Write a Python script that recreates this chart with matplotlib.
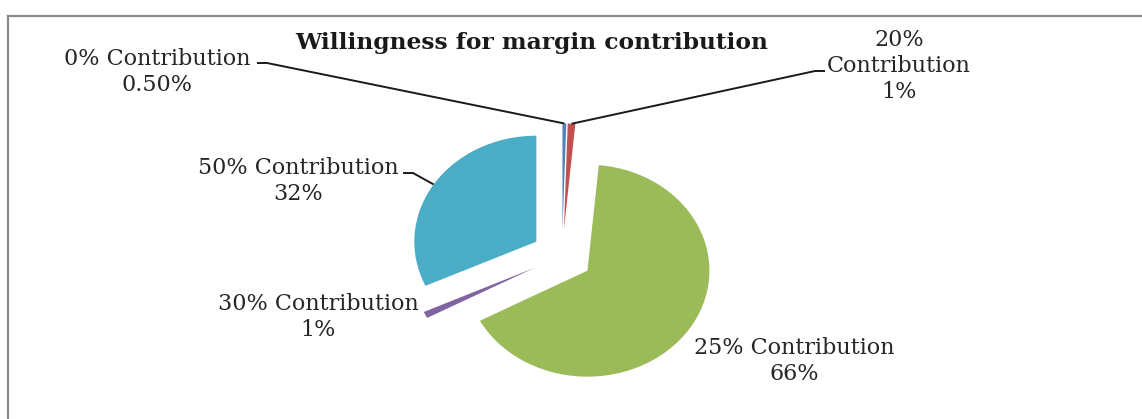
import numpy as np
import matplotlib
matplotlib.use("Agg")
import matplotlib.pyplot as plt
from matplotlib.lines import Line2D

# Survey answers: share of respondents by willingness level
categories = ["0% Contribution", "20% Contribution", "25% Contribution",
              "30% Contribution", "50% Contribution"]
values = [0.5, 1, 66, 1, 32]
value_labels = ["0.50%", "1%", "66%", "1%", "32%"]
colors = ["#4F81BD", "#C0504D", "#9BBB59", "#8064A2", "#4BACC6"]
title = "Willingness for margin contribution"

W, H = 1142, 419
# pie centre and radii in figure pixels (pie drawn slightly wider than tall)
CX, CY, RX, RY = 562, 256, 122, 106

fig = plt.figure(figsize=(W / 100, H / 100), dpi=100)
fig.patch.set_facecolor("white")
ax = fig.add_axes([0, 0, 1, 1])

wedges, _ = ax.pie(values, colors=colors, startangle=90, counterclock=False,
                   explode=[0.25] * len(values), radius=1.0,
                   wedgeprops=dict(linewidth=0))
ax.set_aspect("auto")
ax.set_xlim(-CX / RX, (W - CX) / RX)
ax.set_ylim((CY - H) / RY, CY / RY)
ax.axis("off")


def to_data(px, py):
    return (px - CX) / RX, (CY - py) / RY


def outer_mid(w):
    mid = np.deg2rad((w.theta1 + w.theta2) / 2)
    cx, cy = w.center
    return cx + w.r * np.cos(mid), cy + w.r * np.sin(mid)


font = ["DejaVu Serif"]
txt_color = "#262626"

# label layout: (centre x, centre y) in pixels and line breaks
label_pos = [(157, 72), (899, 66), (794, 361), (318, 317), (298, 181)]
for i, (name, vl) in enumerate(zip(categories, value_labels)):
    name_txt = name.replace(" ", "\n") if i == 1 else name
    x, y = to_data(*label_pos[i])
    ax.text(x, y, f"{name_txt}\n{vl}", ha="center", va="center",
            fontsize=16, family=font, color=txt_color, linespacing=1.22)

# leader lines: slice -> elbow -> stub end next to the text
leaders = {0: [(267, 63), (257, 63)], 1: [(815, 71), (825, 71)],
           4: [(413, 173), (403, 173)]}
for i, pts in leaders.items():
    x0, y0 = outer_mid(wedges[i])
    xs, ys = [x0], [y0]
    for p in pts:
        dx, dy = to_data(*p)
        xs.append(dx)
        ys.append(dy)
    ax.plot(xs, ys, color="#1a1a1a", lw=1.4, solid_capstyle="butt")

fig.text(532 / W, 1 - 43 / H, title, ha="center", va="center",
         fontsize=16.8, fontweight="bold", family=font, color="#1a1a1a")

# chart area frame (top and left edges)
fig.add_artist(Line2D([8 / W, 1], [1 - 16 / H, 1 - 16 / H],
                      transform=fig.transFigure, color="#8a8a8a", lw=1.6))
fig.add_artist(Line2D([8 / W, 8 / W], [0, 1 - 16 / H],
                      transform=fig.transFigure, color="#8a8a8a", lw=1.6))

fig.savefig("out.png", dpi=100, facecolor="white")
